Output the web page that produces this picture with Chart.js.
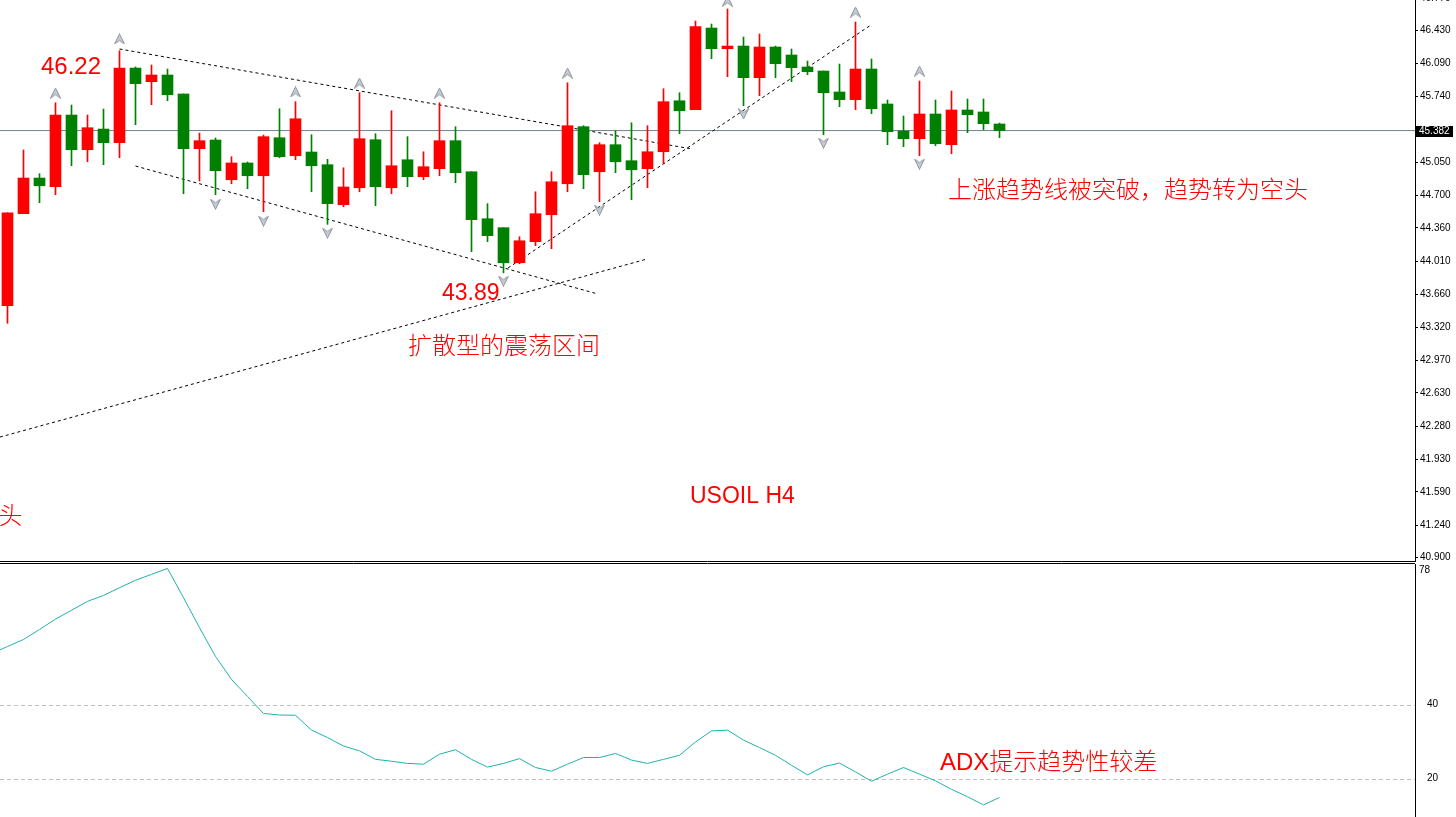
<!DOCTYPE html>
<html><head><meta charset="utf-8">
<script src="https://cdn.jsdelivr.net/npm/chart.js@4.4.1/dist/chart.umd.min.js"></script>
<style>
html,body{margin:0;padding:0;background:#fff;overflow:hidden}
#w1{position:absolute;left:0;top:0;width:1456px;height:562px}
#w2{position:absolute;left:0;top:562px;width:1456px;height:255px}
</style></head><body>
<div id="w1"><canvas id="c1" width="1456" height="562"></canvas></div>
<div id="w2"><canvas id="c2" width="1456" height="255"></canvas></div>
<script>
// ---- USOIL H4 candles (oldest -> newest) ----
const opens  = [43.544,44.51,44.884,44.793,45.545,45.181,45.398,45.255,46.038,45.895,45.965,45.766,45.192,45.283,44.866,45.042,44.908,45.307,45.118,45.157,45.024,44.604,44.782,45.286,44.782,45.076,44.898,44.982,45.276,44.95,44.457,44.363,43.995,44.216,44.499,44.824,45.423,44.95,45.234,45.066,44.982,45.16,45.695,45.601,46.458,46.241,46.269,45.937,46.259,46.175,46.049,46.007,45.787,45.706,46.028,45.661,45.377,45.297,45.556,45.234,45.598,45.577,45.451];
const highs  = [44.52,45.178,44.929,45.674,45.65,45.545,45.608,46.22,46.05,46.07,46.028,45.766,45.356,45.304,45.108,45.052,45.335,45.611,45.685,45.339,45.08,44.992,45.779,45.349,45.59,45.318,45.16,45.674,45.423,44.95,44.615,44.363,44.268,44.74,44.95,45.884,45.433,45.255,45.381,45.464,45.433,45.821,45.779,46.532,46.5,46.658,46.364,46.395,46.269,46.238,46.112,46.007,46.08,46.521,46.133,45.703,45.535,45.902,45.703,45.797,45.713,45.713,45.461];
const lows   = [43.36,44.51,44.625,44.709,45.013,45.055,45.024,45.097,45.444,45.653,45.695,44.719,44.853,44.709,44.824,44.772,44.531,45.097,45.076,44.74,44.398,44.583,44.74,44.594,44.719,44.793,44.866,44.908,44.835,44.111,44.216,43.89,43.985,44.174,44.142,44.74,44.772,44.636,44.94,44.657,44.782,45.034,45.349,45.601,46.136,45.947,45.643,45.748,45.937,45.895,45.968,45.339,45.632,45.601,45.559,45.234,45.213,45.118,45.223,45.139,45.36,45.391,45.307];
const closes = [44.52,44.884,44.803,45.545,45.181,45.412,45.255,46.038,45.874,45.965,45.758,45.192,45.276,44.961,45.042,44.908,45.318,45.108,45.506,45.013,44.615,44.79,45.297,44.793,45.013,44.898,45.003,45.276,44.94,44.447,44.279,43.995,44.226,44.51,44.845,45.433,44.919,45.234,45.055,44.971,45.16,45.685,45.59,46.472,46.241,46.269,45.937,46.259,46.084,46.042,46.0,45.779,45.706,46.028,45.611,45.37,45.297,45.556,45.244,45.598,45.549,45.454,45.382];
const currentPrice = 45.382;
const priceTicks = [46.770,46.430,46.090,45.740,45.050,44.700,44.360,44.010,43.660,43.320,42.970,42.630,42.280,41.930,41.590,41.240,40.900];

// fractal arrows (bar index, price)
const fractalUpIdx   = [3,7,18,22,27,35,45,53,57];
const fractalUpVal   = [45.776,46.343,45.787,45.881,45.776,45.986,46.74,46.626,46.007];
const fractalDownIdx = [13,16,20,31,37,46,51,57];
const fractalDownVal = [44.61,44.433,44.307,43.803,44.548,45.556,45.251,45.031];

// hand-drawn trend lines (bar index, price)
const upperLineX = [7, 42.78],      upperLineY = [46.238, 45.189];
const lowerLineX = [8, 36.9],       lowerLineY = [45.01, 43.667];
const longLineX  = [-0.47, 39.9],   longLineY  = [42.166, 44.031];
const riseLineX  = [31.28, 53.97],  riseLineY  = [43.94, 46.49];

// ADX (first value belongs to the bar before the first visible candle)
const adxValues = [53.8,55.7,57.6,60.3,63.1,65.5,67.9,69.5,71.6,73.6,75.2,76.8,68.9,60.8,53.0,46.8,42.2,37.6,37.2,37.1,33.1,31.1,28.8,27.5,25.2,24.7,24.1,23.9,26.6,27.8,25.2,23.1,24.1,25.4,23.0,22.0,23.9,25.7,25.7,26.8,25.0,24.1,25.2,26.3,29.9,32.9,33.1,30.4,28.4,26.3,23.6,21.0,23.2,24.2,21.8,19.3,21.2,23.0,21.2,19.4,17.1,15.1,12.9,14.9];
const adxTicks = [40, 20];
const adxTopLabel = 78;

// ---- layout constants ----
const X_MIN = -0.46875, X_MAX = 87.96875;
const Y_MAX = 46.7521, Y_MIN = 40.8655;
const ADX_MIN = 9.62, ADX_MAX = 78;
const RED = '#ff0000', GREEN = '#008000';
const CJK = '"Noto Sans CJK SC"';
const LAT = '"Liberation Sans"';

function makeArrow(upDir) {
  const c = document.createElement('canvas'); c.width = 11; c.height = 11;
  const g = c.getContext('2d');
  g.beginPath();
  if (upDir) { g.moveTo(5.5,0.5); g.lineTo(10.5,10.5); g.lineTo(5.5,7); g.lineTo(0.5,10.5); }
  else { g.moveTo(5.5,10.5); g.lineTo(10.5,0.5); g.lineTo(5.5,4); g.lineTo(0.5,0.5); }
  g.closePath(); g.fillStyle = '#c8ccd4'; g.fill();
  g.strokeStyle = '#8c9098'; g.lineWidth = 1; g.stroke();
  return c;
}
const arrowUp = makeArrow(true), arrowDown = makeArrow(false);

const idx = opens.map((_, i) => i);
const candleColors = idx.map(i => closes[i] >= opens[i] ? RED : GREEN);
const pts = (xs, ys) => xs.map((x, i) => ({x, y: ys[i]}));
const trend = (xs, ys) => ({type:'line', data: pts(xs, ys), borderColor:'#000', borderWidth:1, borderDash:[3,3], pointRadius:0, order:3});

const mainTexts = [
  {text:'46.22', x:41, y:73.5, font:'24px '+LAT},
  {text:'43.89', x:442, y:299.5, font:'23px '+LAT},
  {text:'扩散型的震荡区间', x:408, y:354, font:'300 24px '+CJK},
  {text:'上涨趋势线被突破，趋势转为空头', x:948, y:198, font:'300 24px '+CJK},
  {text:'USOIL H4', x:690, y:503, font:'23px '+LAT},
  {text:'空头', x:22.5, y:523.5, font:'300 24px '+CJK, align:'right'}
];

const mainPlugin = {
  id: 'mainDeco',
  afterDraw(chart) {
    const ctx = chart.ctx, ys = chart.scales.y, a = chart.chartArea;
    ctx.save();
    ctx.strokeStyle = '#000'; ctx.lineWidth = 1;
    ctx.beginPath(); ctx.moveTo(0, 561.5); ctx.lineTo(a.right, 561.5); ctx.stroke();
    // current price label
    const py = Math.round(ys.getPixelForValue(currentPrice));
    ctx.fillStyle = '#000'; ctx.fillRect(a.right + 1, py - 5, 37, 11);
    ctx.fillStyle = '#fff'; ctx.font = '10px ' + LAT; ctx.textBaseline = 'middle'; ctx.textAlign = 'left';
    ctx.fillText(currentPrice.toFixed(3), a.right + 4, py + 0.5);
    // annotations
    mainTexts.forEach(t => {
      ctx.font = t.font; ctx.fillStyle = RED; ctx.textAlign = t.align || 'left'; ctx.textBaseline = 'alphabetic';
      ctx.fillText(t.text, t.x, t.y);
    });
    ctx.restore();
  }
};

new Chart(document.getElementById('c1'), {
  type: 'bar',
  data: {
    datasets: [
      {type:'line', data: pts(fractalUpIdx, fractalUpVal), showLine:false, pointStyle: arrowUp, pointRadius:5, order:0},
      {type:'line', data: pts(fractalDownIdx, fractalDownVal), showLine:false, pointStyle: arrowDown, pointRadius:5, order:0},
      {type:'bar', data: idx.map(i => ({x:i, y:[opens[i], closes[i]]})), backgroundColor: candleColors, borderWidth:0, barThickness:11, grouped:false, order:1},
      {type:'bar', data: idx.map(i => ({x:i, y:[lows[i], highs[i]]})), backgroundColor: candleColors, borderWidth:0, barThickness:1, grouped:false, order:2},
      trend(upperLineX, upperLineY),
      trend(lowerLineX, lowerLineY),
      trend(longLineX, longLineY),
      trend(riseLineX, riseLineY),
      {type:'line', data:[{x:X_MIN, y:currentPrice},{x:X_MAX, y:currentPrice}], borderColor:'#708090', borderWidth:1, pointRadius:0, order:5}
    ]
  },
  options: {
    responsive:false, animation:false, devicePixelRatio:1, events:[],
    layout:{autoPadding:false, padding:{top:0, left:0, right:0, bottom:1}},
    plugins:{legend:{display:false}, tooltip:{enabled:false}},
    scales:{
      x:{type:'linear', min:X_MIN, max:X_MAX, display:false, offset:false},
      y:{type:'linear', position:'right', min:Y_MIN, max:Y_MAX, beginAtZero:false,
        afterFit(s){ s.width = 41; s.paddingTop = 0; s.paddingBottom = 0; },
        afterBuildTicks(s){ s.ticks = priceTicks.map(v => ({value:v})); },
        ticks:{autoSkip:false, padding:2, color:'#000', font:{family:'Liberation Sans', size:10}, callback: v => Number(v).toFixed(3)},
        grid:{drawOnChartArea:false, drawTicks:true, tickLength:3, color:'#000', tickColor:'#000'},
        border:{display:true, color:'#000', width:1}
      }
    }
  },
  plugins:[mainPlugin]
});

const adxPlugin = {
  id: 'adxDeco',
  beforeDatasetsDraw(chart) {
    const ctx = chart.ctx, ys = chart.scales.y, a = chart.chartArea;
    ctx.save();
    ctx.strokeStyle = '#c0c0c0'; ctx.lineWidth = 1; ctx.setLineDash([4,3]);
    adxTicks.forEach(v => {
      const y = Math.round(ys.getPixelForValue(v)) + 0.5;
      ctx.beginPath(); ctx.moveTo(a.left, y); ctx.lineTo(a.right, y); ctx.stroke();
    });
    ctx.restore();
  },
  afterDraw(chart) {
    const ctx = chart.ctx, a = chart.chartArea;
    ctx.save();
    ctx.strokeStyle = '#000'; ctx.lineWidth = 1;
    ctx.beginPath(); ctx.moveTo(0, 1.5); ctx.lineTo(a.right, 1.5); ctx.stroke();
    ctx.fillStyle = '#000'; ctx.font = '10px ' + LAT; ctx.textBaseline = 'middle'; ctx.textAlign = 'left';
    ctx.fillText(String(adxTopLabel), a.right + 4, 8.7);
    // annotation
    ctx.fillStyle = RED; ctx.textBaseline = 'alphabetic';
    ctx.font = '24px ' + LAT;
    const w = ctx.measureText('ADX').width;
    ctx.fillText('ADX', 940, 208);
    ctx.font = '300 24px ' + CJK;
    ctx.fillText('提示趋势性较差', 940 + w, 208);
    ctx.restore();
  }
};

new Chart(document.getElementById('c2'), {
  type: 'line',
  data: {
    datasets: [{data: adxValues.map((v, i) => ({x:i - 1, y:v})), borderColor:'#20b2aa', borderWidth:1, pointRadius:0, tension:0}]
  },
  options: {
    responsive:false, animation:false, devicePixelRatio:1, events:[],
    layout:{autoPadding:false, padding:{top:2, left:0, right:0, bottom:0}},
    plugins:{legend:{display:false}, tooltip:{enabled:false}},
    scales:{
      x:{type:'linear', min:X_MIN, max:X_MAX, display:false, offset:false},
      y:{type:'linear', position:'right', min:ADX_MIN, max:ADX_MAX,
        afterFit(s){ s.width = 41; s.paddingTop = 0; s.paddingBottom = 0; },
        afterBuildTicks(s){ s.ticks = adxTicks.map(v => ({value:v})); },
        ticks:{autoSkip:false, padding:4, color:'#000', font:{family:'Liberation Sans', size:10}},
        grid:{display:false},
        border:{display:true, color:'#000', width:1}
      }
    }
  },
  plugins:[adxPlugin]
});
</script>
</body></html>
